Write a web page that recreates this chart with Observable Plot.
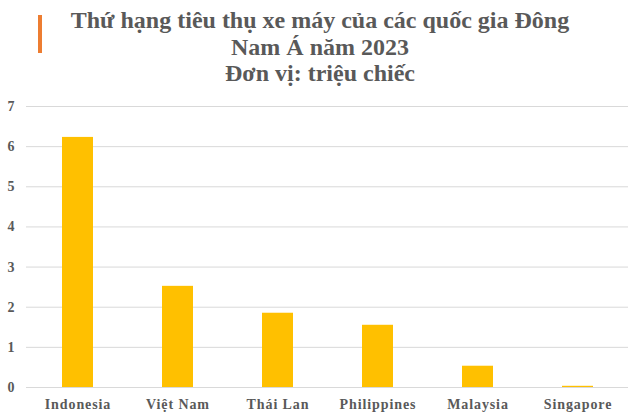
<!DOCTYPE html>
<html>
<head>
<meta charset="utf-8">
<script src="https://cdn.jsdelivr.net/npm/d3@7"></script>
<script src="https://cdn.jsdelivr.net/npm/@observablehq/plot@0.6"></script>
<style>
  html, body { margin: 0; padding: 0; background: #fff; }
  #wrap { position: relative; width: 640px; height: 418px; overflow: hidden; }
  #accent { position: absolute; left: 38px; top: 15px; width: 4px; height: 38px; background: #ED7D31; }
  #title { position: absolute; left: 0; top: 7px; width: 640px; text-align: center;
    font-family: "Liberation Serif", "Times New Roman", serif; font-weight: bold;
    font-size: 24px; line-height: 26.5px; color: #595959; }
  #chart { position: absolute; left: 0; top: 95px; }
  #chart svg text { letter-spacing: 0.9px; }
</style>
</head>
<body>
<div id="wrap">
  <div id="accent"></div>
  <div id="title">Thứ hạng tiêu thụ xe máy của các quốc gia Đông<br>Nam Á năm 2023<br>Đơn vị: triệu chiếc</div>
  <div id="chart"></div>
</div>
<script>
const countries = ["Indonesia", "Việt Nam", "Thái Lan", "Philippines", "Malaysia", "Singapore"];
const values = [6.23, 2.52, 1.85, 1.55, 0.53, 0.03];
const yTicks = [0, 1, 2, 3, 4, 5, 6, 7];

const data = countries.map((c, i) => ({country: c, value: values[i]}));

const plot = Plot.plot({
  width: 640,
  height: 323,
  marginTop: 11,
  marginBottom: 31,
  marginLeft: 26,
  marginRight: 12,
  style: {fontFamily: "'Liberation Serif', 'Times New Roman', serif", fontSize: "14px", fontWeight: "bold", color: "#595959", background: "#fff"},
  x: {domain: countries, paddingInner: 0.69, paddingOuter: 0.345, align: 0.5, label: null},
  y: {domain: [0, 7], ticks: yTicks, label: null},
  marks: [
    Plot.gridY(yTicks, {stroke: "#d9d9d9", strokeOpacity: 1}),
    Plot.barY(data, {x: "country", y: "value", fill: "#FFC000"}),
    Plot.ruleY([0], {stroke: "#d9d9d9"}),
    Plot.axisX({tickSize: 0, tickPadding: 12, fontSize: 14}),
    Plot.axisY(yTicks, {tickSize: 0, tickPadding: 11, fontSize: 14})
  ]
});
document.getElementById("chart").appendChild(plot);
</script>
</body>
</html>
